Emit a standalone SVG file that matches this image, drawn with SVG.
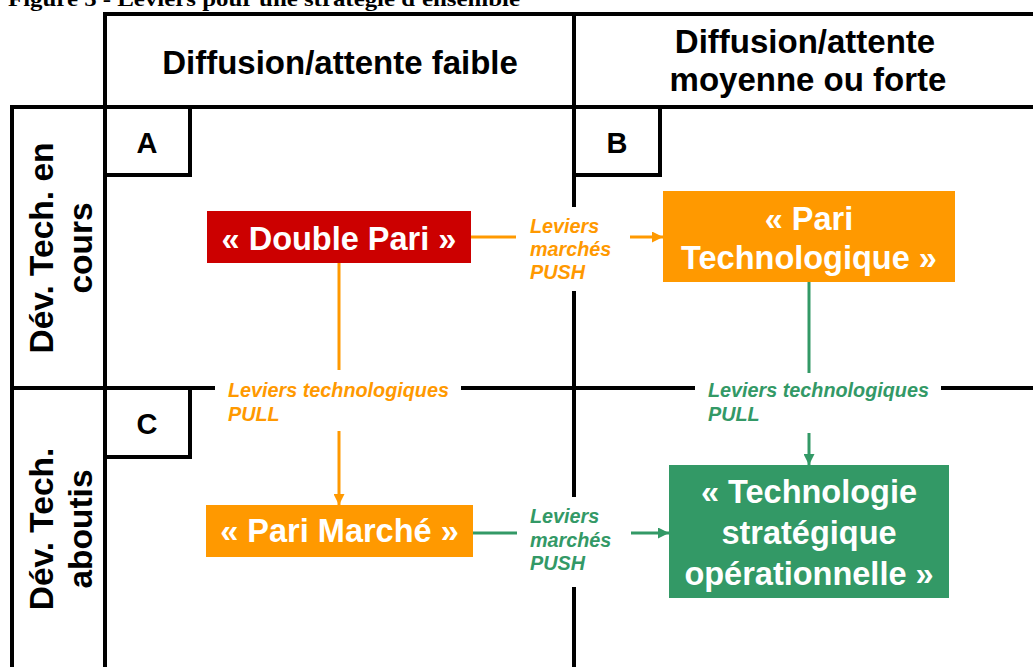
<svg xmlns="http://www.w3.org/2000/svg" width="1033" height="667" viewBox="0 0 1033 667">
<style>
.grid{stroke:#000;stroke-width:4;fill:none}
.hdr{font-family:"Liberation Sans",Arial,sans-serif;font-weight:bold;font-size:33px;fill:#000;text-anchor:middle}
.row{font-family:"Liberation Sans",Arial,sans-serif;font-weight:bold;font-size:33.5px;fill:#000;text-anchor:middle}
.letter{font-family:"Liberation Sans",Arial,sans-serif;font-weight:bold;font-size:29px;fill:#000;text-anchor:middle}
.box{font-family:"Liberation Sans",Arial,sans-serif;font-weight:bold;font-size:32.5px;fill:#fff;text-anchor:middle}
.lab{font-family:"Liberation Sans",Arial,sans-serif;font-weight:bold;font-style:italic;font-size:19.8px}
.or{fill:#FF9900}
.gr{fill:#339966}
.lo{stroke:#FF9900;stroke-width:3;fill:none}
.lg{stroke:#339966;stroke-width:3;fill:none}
</style>
<defs>
<marker id="ao" markerWidth="11" markerHeight="11" refX="11" refY="5.5" orient="auto" markerUnits="userSpaceOnUse"><path d="M0,0 L11,5.5 L0,11 Z" fill="#FF9900"/></marker>
<marker id="ag" markerWidth="11" markerHeight="11" refX="11" refY="5.5" orient="auto" markerUnits="userSpaceOnUse"><path d="M0,0 L11,5.5 L0,11 Z" fill="#339966"/></marker>
</defs>
<rect width="1033" height="667" fill="#fff"/>
<text x="8" y="6" font-family="'Liberation Serif','Times New Roman',serif" font-weight="bold" font-size="22" fill="#000" textLength="512" lengthAdjust="spacingAndGlyphs">Figure 5 - Leviers pour une stratégie d'ensemble</text>
<g id="grid">
<line class="grid" x1="103" y1="14" x2="1033" y2="14"/>
<line class="grid" x1="10" y1="107" x2="1033" y2="107"/>
<line class="grid" x1="105" y1="12" x2="105" y2="667"/>
<line class="grid" x1="12" y1="105" x2="12" y2="667"/>
<line class="grid" x1="574" y1="12" x2="574" y2="207"/>
<line class="grid" x1="574" y1="291" x2="574" y2="497"/>
<line class="grid" x1="574" y1="587" x2="574" y2="667"/>
<line class="grid" x1="10" y1="388" x2="215" y2="388"/>
<line class="grid" x1="461" y1="388" x2="695" y2="388"/>
<line class="grid" x1="941" y1="388" x2="1033" y2="388"/>
</g>
<g id="col1"><text class="hdr" x="340" y="74">Diffusion/attente faible</text></g>
<g id="col2"><text class="hdr" x="805" y="53">Diffusion/attente</text><text class="hdr" x="808" y="91">moyenne ou forte</text></g>
<g id="row1" transform="translate(53,248) rotate(-90)"><text class="row" x="0" y="0">Dév. Tech. en</text><text class="row" x="0" y="39">cours</text></g>
<g id="row2" transform="translate(53,529) rotate(-90)"><text class="row" x="0" y="0">Dév. Tech.</text><text class="row" x="0" y="39">aboutis</text></g>
<g id="boxA"><path class="grid" d="M190,107 V175 H105"/><text class="letter" x="147" y="153">A</text></g>
<g id="boxB"><path class="grid" d="M660,107 V175 H574"/><text class="letter" x="617" y="153">B</text></g>
<g id="boxC"><path class="grid" d="M190,388 V457 H105"/><text class="letter" x="147" y="434">C</text></g>
<g id="connectors">
<line class="lo" x1="471" y1="237" x2="516" y2="237"/>
<line class="lo" x1="630" y1="237" x2="663" y2="237" marker-end="url(#ao)"/>
<line class="lo" x1="339" y1="263" x2="339" y2="370"/>
<line class="lo" x1="339" y1="431" x2="339" y2="505" marker-end="url(#ao)"/>
<line class="lg" x1="809" y1="282" x2="809" y2="373"/>
<line class="lg" x1="809" y1="433" x2="809" y2="465" marker-end="url(#ag)"/>
<line class="lg" x1="473" y1="533" x2="517" y2="533"/>
<line class="lg" x1="631" y1="533" x2="669" y2="533" marker-end="url(#ag)"/>
<text class="lab or" x="530" y="233">Leviers</text>
<text class="lab or" x="530" y="256">marchés</text>
<text class="lab or" x="530" y="279">PUSH</text>
<text class="lab or" x="228" y="397">Leviers technologiques</text>
<text class="lab or" x="228" y="421">PULL</text>
<text class="lab gr" x="708" y="397">Leviers technologiques</text>
<text class="lab gr" x="708" y="421">PULL</text>
<text class="lab gr" x="530" y="523">Leviers</text>
<text class="lab gr" x="530" y="547">marchés</text>
<text class="lab gr" x="530" y="570">PUSH</text>
</g>
<g id="doublePari"><rect x="207" y="211" width="264" height="52" fill="#CC0000"/><text class="box" x="339" y="250">« Double Pari »</text></g>
<g id="pariTech"><rect x="663" y="191" width="292" height="91" fill="#FF9900"/><text class="box" x="809" y="230">« Pari</text><text class="box" x="809" y="269">Technologique »</text></g>
<g id="pariMarche"><rect x="206" y="505" width="267" height="52" fill="#FF9900"/><text class="box" x="339.5" y="542">« Pari Marché »</text></g>
<g id="techStrat"><rect x="669" y="465" width="280" height="133" fill="#339966"/><text class="box" x="809" y="503">« Technologie</text><text class="box" x="809" y="544">stratégique</text><text class="box" x="809" y="585">opérationnelle »</text></g>
</svg>
